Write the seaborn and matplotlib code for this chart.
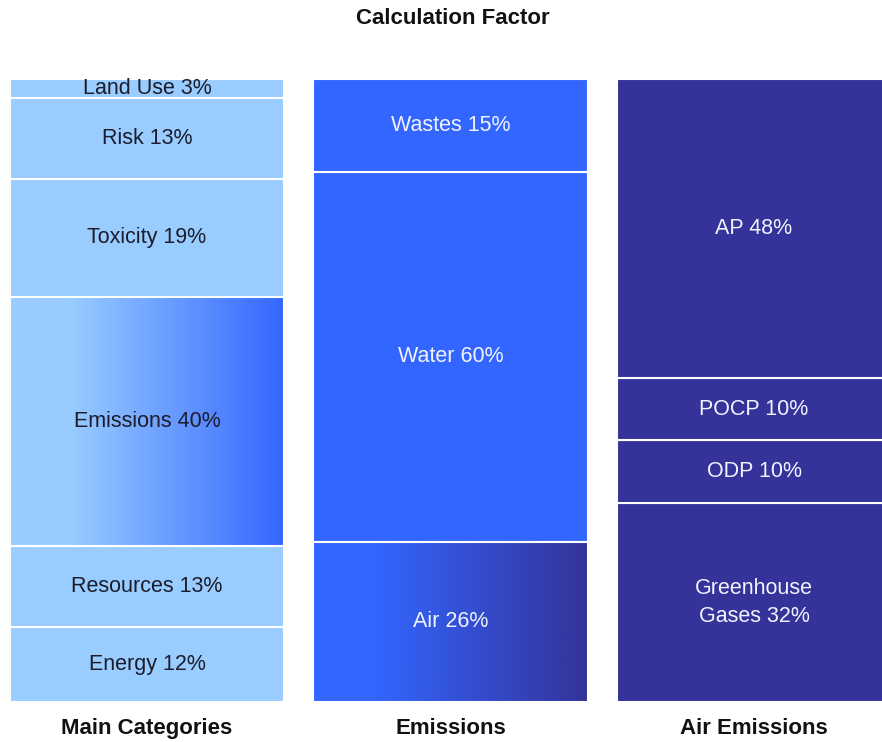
import numpy as np
import matplotlib
matplotlib.use("Agg")
import matplotlib.pyplot as plt
from matplotlib.colors import LinearSegmentedColormap
import seaborn as sns

# data (bottom to top in each column)
columns = ["Main Categories", "Emissions", "Air Emissions"]

main_labels = ["Energy", "Resources", "Emissions", "Toxicity", "Risk", "Land Use"]
main_values = [12, 13, 40, 19, 13, 3]

emis_labels = ["Air", "Water", "Wastes"]
emis_values = [26, 60, 15]

air_labels = ["Greenhouse\nGases", "ODP", "POCP", "AP"]
air_values = [32, 10, 10, 48]

light = "#99CCFF"
mid = "#3366FF"
dark = "#333399"

col_data = [
    (main_labels, main_values, light, "#1c1c2a"),
    (emis_labels, emis_values, mid, "#f2f2ff"),
    (air_labels, air_values, dark, "#f2f2ff"),
]
# which segment gets a gradient, and its colours (left -> right)
gradients = {(0, "Emissions"): (light, mid), (1, "Air"): (mid, dark)}

sns.set_theme(style="white")
plt.rcParams["font.family"] = ["Liberation Sans", "DejaVu Sans"]

fig = plt.figure(figsize=(8.82, 7.42), dpi=100)
ax = fig.add_axes([10 / 882, 40 / 742, 872 / 882, 623 / 742])

width = 0.903
for ci, (labels, values, color, tcolor) in enumerate(col_data):
    vals = np.array(values, dtype=float)
    shares = vals / vals.sum()
    bottom = 0.0
    for lbl, v, s in zip(labels, values, shares):
        key = (ci, lbl)
        bar = ax.bar(ci, s, bottom=bottom, width=width, color=color,
                     edgecolor="white", linewidth=1.5, zorder=2)[0]
        if key in gradients:
            cmap = LinearSegmentedColormap.from_list(
                "g", [(0, gradients[key][0]), (0.22, gradients[key][0]),
                      (1, gradients[key][1])])
            grad = np.linspace(0, 1, 256).reshape(1, -1)
            im = ax.imshow(grad, cmap=cmap, aspect="auto", zorder=2.5,
                           extent=[ci - width / 2, ci + width / 2, bottom, bottom + s])
            im.set_clip_path(bar)
            # redraw white separator edges on top
            ax.bar(ci, s, bottom=bottom, width=width, color="none",
                   edgecolor="white", linewidth=1.5, zorder=3)
        ax.text(ci, bottom + s / 2, "{} {}%".format(lbl, v), ha="center",
                va="center", fontsize=15.5, color=tcolor, zorder=4,
                linespacing=1.4)
        bottom += s

ax.set_xlim(-0.4515, 2.4217)
ax.set_ylim(0, 1)
ax.set_axis_off()

for ci, name in enumerate(columns):
    ax.text(ci, -0.042, name, ha="center", va="center", fontsize=16,
            fontweight="bold", color="#111111")

fig.text(453 / 882, 1 - 18 / 742, "Calculation Factor", ha="center",
         va="center", fontsize=16, fontweight="bold", color="#111111")

fig.savefig("out.png", dpi=100, facecolor="white")
